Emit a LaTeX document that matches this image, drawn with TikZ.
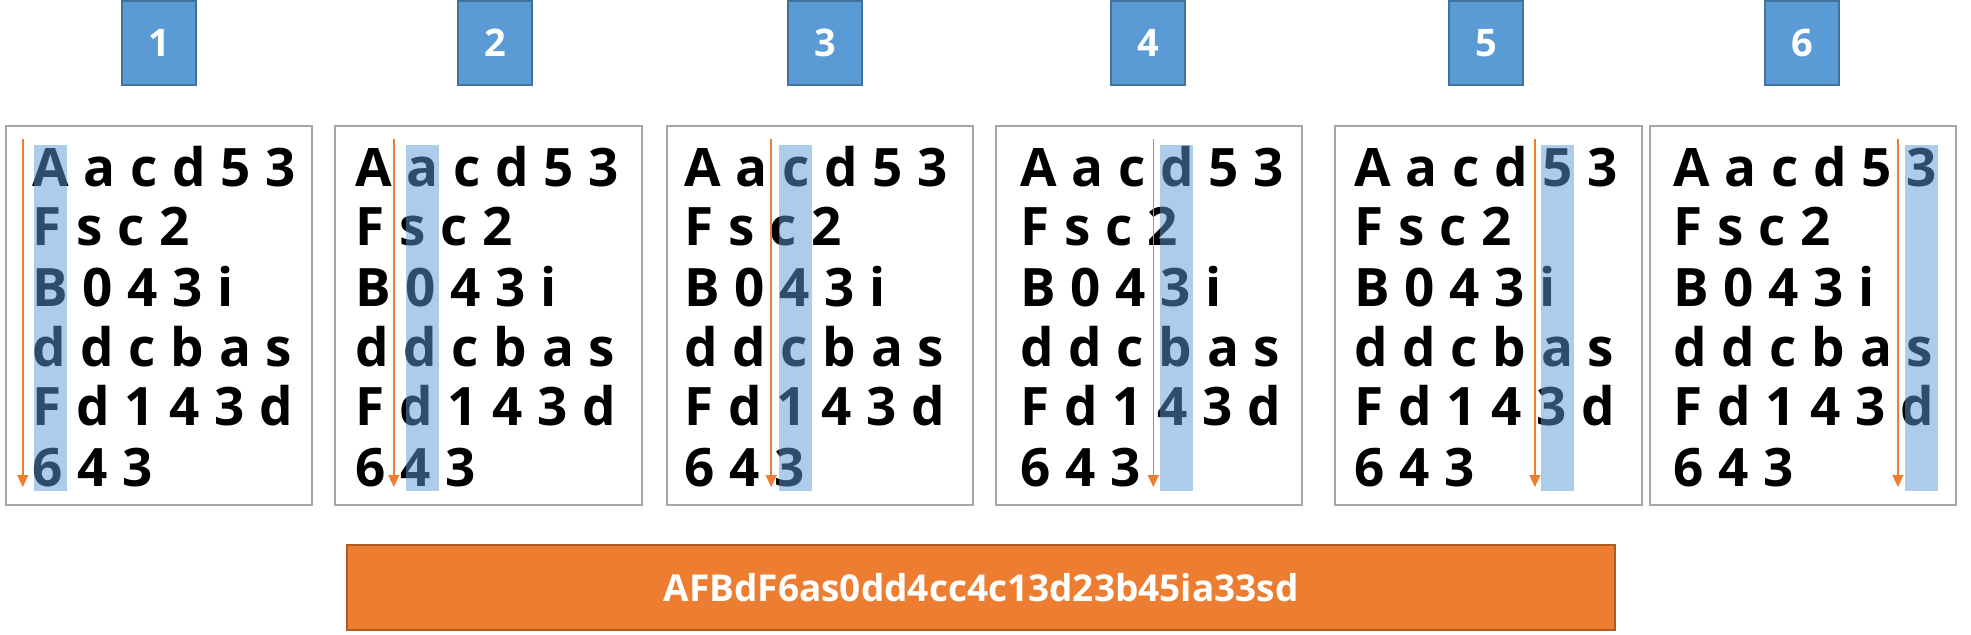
\documentclass[tikz,border=0pt]{standalone}
\usepackage{fontspec}
\setmainfont{Open Sans}
\newfontfamily\rowfam{Open Sans}[WordSpace=1.07]
\usetikzlibrary{arrows.meta}
\definecolor{numfill}{HTML}{5B9BD5}
\definecolor{numdraw}{HTML}{41719C}
\definecolor{framegray}{HTML}{A6A6A6}
\definecolor{orangeA}{HTML}{ED7D31}
\definecolor{orangeB}{HTML}{AE5A21}
\newcommand\rowfont{\rowfam\fontsize{26.5pt}{30pt}\selectfont\bfseries}
\newlength\prelen
\newlength\chlen
\tikzset{
  frame/.style={draw=framegray, line width=1pt, fill=white, inner sep=0pt},
  rowtext/.style={anchor=base west, inner sep=0pt, font=\rowfont},
  hlbox/.style={fill=numfill, fill opacity=0.5, draw=none, inner sep=0pt},
  flow/.style={draw=orangeA, line width=0.75pt, -{Triangle[width=5.5pt,length=6pt]}},
  numbox/.style={fill=numfill, draw=numdraw, line width=1pt, text=white, inner sep=0pt,
    minimum width=37pt, minimum height=42pt, font=\fontsize{19pt}{22pt}\selectfont\bfseries},
  bar/.style={fill=orangeA, draw=orangeB, line width=0.75pt, text=white, inner sep=0pt,
    minimum width=634pt, minimum height=42.5pt, font=\fontsize{18.5pt}{21pt}\selectfont\bfseries}
}
% measure the centre (in px) of the highlighted character of row 1
\newcommand\measure[3]{%
  \settowidth\prelen{\rowfont #2}%
  \settowidth\chlen{\rowfont #3}%
  \pgfmathsetmacro\tmpoff{2*\prelen+\chlen}%
  \expandafter\xdef\csname off#1\endcsname{\tmpoff}%
}
% #1 index, #2 frame left, #3 frame right, #4 text left, #5 arrow offset, #6 number centre
\newcommand\panel[6]{%
  \pgfmathsetmacro\rc{#4+\csname off#1\endcsname}%
  \node[frame, minimum width={(#3-#2)*0.5pt}, minimum height=189.5pt] (box#1) at ({(#2+#3)/2},315.5) {};
  \node[rowtext] (r#1a) at (#4,186) {A a c d 5 3};
  \node[rowtext] (r#1b) at (#4,245) {F s c 2};
  \node[rowtext] (r#1c) at (#4,306) {B 0 4 3 i};
  \node[rowtext] (r#1d) at (#4,366) {d d c b a s};
  \node[rowtext] (r#1e) at (#4,425) {F d 1 4 3 d};
  \node[rowtext] (r#1f) at (#4,486) {6 4 3};
  \node[hlbox, minimum width=16.5pt, minimum height=173pt] (hl#1) at (\rc,318) {};
  \coordinate (as#1) at ({\rc-16.5-#5},139);
  \coordinate (ae#1) at ({\rc-16.5-#5},487);
  \draw[flow] (as#1) -- (ae#1);
  \node[numbox] (num#1) at (#6,43) {#1};
}
\begin{document}
\measure{1}{}{A}%
\measure{2}{A }{a}%
\measure{3}{A a }{c}%
\measure{4}{A a c }{d}%
\measure{5}{A a c d }{5}%
\measure{6}{A a c d 5 }{3}%
\begin{tikzpicture}[x=0.5pt,y=-0.5pt]
\useasboundingbox (0,0) rectangle (1971,634);
\panel{1}{6}{312}{32}{11}{159}
\panel{2}{335}{642}{355}{12}{495}
\panel{3}{667}{973}{684}{8}{825}
\panel{4}{996}{1302}{1020}{7}{1148}
\panel{5}{1335}{1642}{1354}{6}{1486}
\panel{6}{1650}{1956}{1673}{7}{1802}
\node[bar] (result) at (981,587.5) {AFBdF6as0dd4cc4c13d23b45ia33sd};
\end{tikzpicture}
\end{document}
